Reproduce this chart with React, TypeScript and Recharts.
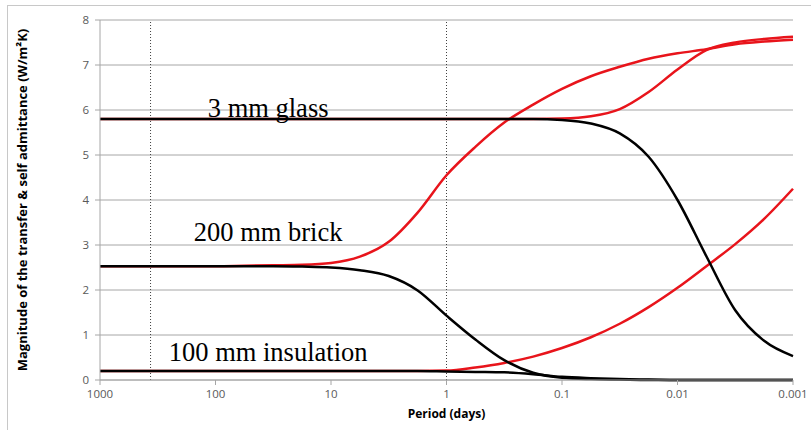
import { LineChart, Line, XAxis, YAxis, CartesianGrid, ReferenceLine, ReferenceDot } from "recharts";

// x position = log10(period in days), axis runs from 1000 days down to 0.001 days
const logPeriod = [3, 2.75, 2.5, 2.25, 2, 1.75, 1.5, 1.25, 1, 0.75, 0.5, 0.25, 0, -0.25, -0.5, -0.75, -1, -1.25, -1.5, -1.75, -2, -2.25, -2.5, -2.75, -3];

const glassTransfer = [5.8, 5.8, 5.8, 5.8, 5.8, 5.8, 5.8, 5.8, 5.8, 5.8, 5.8, 5.8, 5.8, 5.8, 5.8, 5.8, 5.78, 5.7, 5.48, 4.96, 4.0, 2.75, 1.55, 0.87, 0.53];
const glassSelf = [5.8, 5.8, 5.8, 5.8, 5.8, 5.8, 5.8, 5.8, 5.8, 5.8, 5.8, 5.8, 5.8, 5.8, 5.8, 5.8, 5.81, 5.86, 6.02, 6.4, 6.9, 7.33, 7.5, 7.58, 7.63];
const brickTransfer = [2.53, 2.53, 2.53, 2.53, 2.53, 2.53, 2.53, 2.52, 2.5, 2.44, 2.31, 1.99, 1.43, 0.9, 0.44, 0.16, 0.05, 0.02, 0.01, 0.0, 0.0, 0.0, 0.0, 0.0, 0.0];
const brickSelf = [2.53, 2.53, 2.53, 2.53, 2.53, 2.54, 2.55, 2.56, 2.6, 2.74, 3.07, 3.72, 4.55, 5.18, 5.72, 6.12, 6.47, 6.75, 6.96, 7.14, 7.26, 7.35, 7.46, 7.52, 7.56];
const insulationTransfer = [0.2, 0.2, 0.2, 0.2, 0.2, 0.2, 0.2, 0.2, 0.2, 0.2, 0.2, 0.2, 0.19, 0.18, 0.17, 0.13, 0.07, 0.04, 0.02, 0.01, 0.0, 0.0, 0.0, 0.0, 0.0];
const insulationSelf = [0.2, 0.2, 0.2, 0.2, 0.2, 0.2, 0.2, 0.2, 0.2, 0.2, 0.2, 0.2, 0.21, 0.28, 0.38, 0.52, 0.71, 0.95, 1.25, 1.62, 2.05, 2.53, 3.02, 3.58, 4.25];

const xTicks = [3, 2, 1, 0, -1, -2, -3];
const xTickLabels = ["1000", "100", "10", "1", "0.1", "0.01", "0.001"];
const yTicks = [0, 1, 2, 3, 4, 5, 6, 7, 8];

const markerPeriods = [365, 1];
const materialLabels = [
  { text: "3 mm glass", period: 35, value: 6.05 },
  { text: "200 mm brick", period: 35, value: 3.3 },
  { text: "100 mm insulation", period: 35, value: 0.63 },
];

const data = logPeriod.map((x, i) => ({
  x,
  glassT: glassTransfer[i],
  glassS: glassSelf[i],
  brickT: brickTransfer[i],
  brickS: brickSelf[i],
  insT: insulationTransfer[i],
  insS: insulationSelf[i],
}));

const RED = "#e8141b";
const BLACK = "#000000";
const sans = "'Open Sans', 'Liberation Sans', sans-serif";
const tickFont = { fontSize: 11.5, fill: "#595959", fontFamily: sans };

function MaterialLabel(props: any) {
  const { viewBox, value } = props;
  const cx = viewBox.x + (viewBox.width || 0) / 2;
  const cy = viewBox.y + (viewBox.height || 0) / 2;
  return (
    <text x={cx} y={cy} textAnchor="middle" dominantBaseline="central"
      style={{ fontFamily: "'Liberation Serif', 'Times New Roman', serif", fontSize: 26.5, fill: "#000" }}>
      {value}
    </text>
  );
}

export default function App() {
  return (
    <div style={{ position: "absolute", left: 0, top: 0, width: 811, height: 430, background: "#fff" }}>
      <div style={{ position: "absolute", left: 7, top: 5, width: 804, height: 425, borderTop: "1px solid #c8c8c8", borderLeft: "1px solid #c8c8c8" }} />
      <LineChart width={811} height={430} data={data} margin={{ top: 20, right: 18, bottom: 0, left: 0 }}>
        <CartesianGrid vertical={false} stroke="#a6a6a6" strokeWidth={1} />
        <XAxis
          dataKey="x"
          type="number"
          domain={[-3, 3]}
          reversed
          ticks={xTicks}
          tickFormatter={(v: number) => xTickLabels[xTicks.indexOf(v)]}
          tick={tickFont}
          tickLine={{ stroke: "#a6a6a6" }}
          axisLine={{ stroke: "#a6a6a6" }}
          tickSize={5}
          tickMargin={5}
          height={50}
          label={{ value: "Period (days)", position: "insideBottom", offset: 12, style: { fontSize: 12, fontWeight: 700, fill: "#000", fontFamily: sans } }}
        />
        <YAxis
          type="number"
          domain={[0, 8]}
          ticks={yTicks}
          tick={tickFont}
          tickLine={{ stroke: "#a6a6a6" }}
          axisLine={{ stroke: "#a6a6a6" }}
          tickSize={5}
          tickMargin={6}
          width={100}
          label={{ value: "Magnitude of the transfer & self  admittance (W/m²K)", angle: -90, position: "insideLeft", offset: 22, style: { textAnchor: "middle", fontSize: 13, fontWeight: 700, fill: "#000", fontFamily: sans } }}
        />
        {markerPeriods.map((p) => (
          <ReferenceLine key={p} x={Math.log10(p)} stroke="#404040" strokeDasharray="1 2" strokeWidth={1} />
        ))}
        <Line type="monotone" dataKey="glassS" stroke={RED} strokeWidth={2.5} dot={false} isAnimationActive={false} />
        <Line type="monotone" dataKey="brickS" stroke={RED} strokeWidth={2.5} dot={false} isAnimationActive={false} />
        <Line type="monotone" dataKey="insS" stroke={RED} strokeWidth={2.5} dot={false} isAnimationActive={false} />
        <Line type="monotone" dataKey="glassT" stroke={BLACK} strokeWidth={2.5} dot={false} isAnimationActive={false} />
        <Line type="monotone" dataKey="brickT" stroke={BLACK} strokeWidth={2.5} dot={false} isAnimationActive={false} />
        <Line type="monotone" dataKey="insT" stroke={BLACK} strokeWidth={2.5} dot={false} isAnimationActive={false} />
        {materialLabels.map((m) => (
          <ReferenceDot key={m.text} x={Math.log10(m.period)} y={m.value} r={0} stroke="none" fill="none"
            label={<MaterialLabel value={m.text} />} />
        ))}
      </LineChart>
    </div>
  );
}
